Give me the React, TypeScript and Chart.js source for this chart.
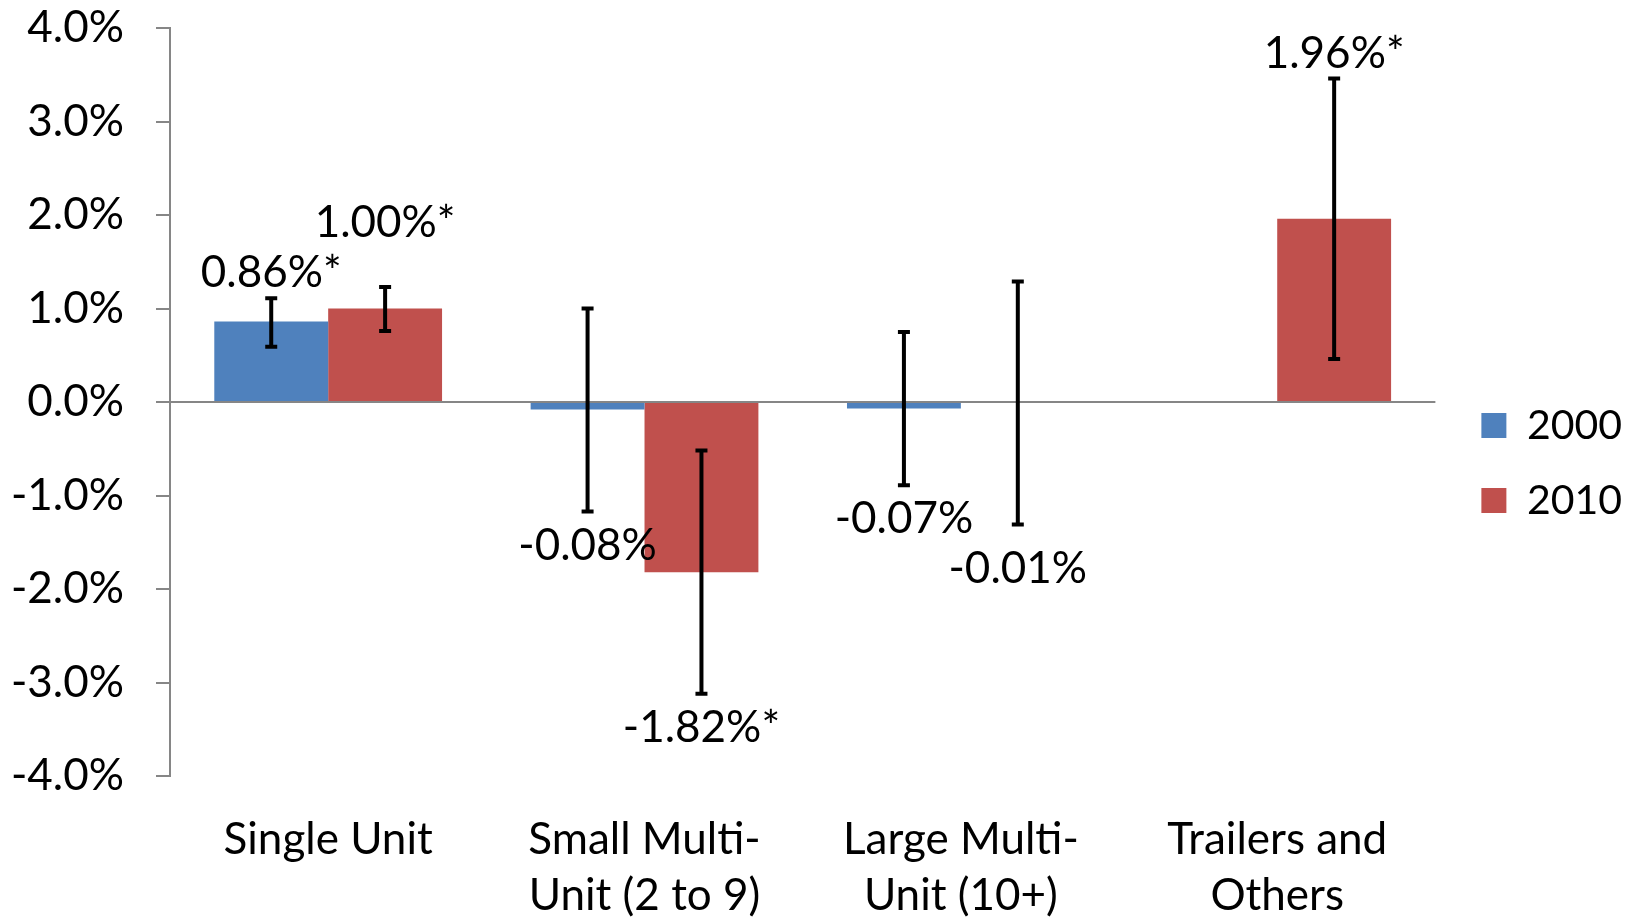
import React, { useEffect, useRef } from 'react';
import { Chart, registerables } from 'chart.js';

Chart.register(...registerables);

const categories: string[][] = [
  ['Single Unit'],
  ['Small Multi-', 'Unit (2 to 9)'],
  ['Large Multi-', 'Unit (10+)'],
  ['Trailers and', 'Others'],
];
const seriesNames = ['2000', '2010'];
const values2000: (number | null)[] = [0.86, -0.08, -0.07, null];
const values2010: (number | null)[] = [1.0, -1.82, -0.01, 1.96];
const errLow2000: (number | null)[] = [0.59, -1.17, -0.89, null];
const errHigh2000: (number | null)[] = [1.11, 1.0, 0.75, null];
const errLow2010: (number | null)[] = [0.76, -3.12, -1.31, 0.46];
const errHigh2010: (number | null)[] = [1.23, -0.52, 1.29, 3.46];
const sig2000 = [true, false, false, false];
const sig2010 = [true, true, false, true];
const yMin = -4;
const yMax = 4;
const yStep = 1;

const colors = ['#4F81BD', '#C0504D'];
const errLows = [errLow2000, errLow2010];
const errHighs = [errHigh2000, errHigh2010];
const sigs = [sig2000, sig2010];
const FONT = 'Lato';
const TEXT_SIZE = 44;

const errorBarPlugin = {
  id: 'errorBarsAndLabels',
  afterLayout(chart: any) {
    // let the category labels use the full canvas height (no clipping)
    const xs = chart.scales.x;
    if (xs) xs.bottom = chart.height;
  },
  afterDatasetsDraw(chart: any) {
    const ctx = chart.ctx;
    const yScale = chart.scales.y;
    const labels: any[] = [];
    chart.data.datasets.forEach((ds: any, di: number) => {
      const meta = chart.getDatasetMeta(di);
      meta.data.forEach((bar: any, i: number) => {
        const v = ds.data[i];
        if (v == null) return;
        const lo = errLows[di][i];
        const hi = errHighs[di][i];
        const x = bar.x;
        const yl = yScale.getPixelForValue(lo);
        const yh = yScale.getPixelForValue(hi);
        ctx.save();
        ctx.strokeStyle = '#000';
        ctx.lineWidth = 4;
        ctx.lineCap = 'butt';
        ctx.beginPath();
        ctx.moveTo(x, yh);
        ctx.lineTo(x, yl);
        ctx.moveTo(x - 6, yh);
        ctx.lineTo(x + 6, yh);
        ctx.moveTo(x - 6, yl);
        ctx.lineTo(x + 6, yl);
        ctx.stroke();
        ctx.restore();
        const text = v.toFixed(2) + '%' + (sigs[di][i] ? '*' : '');
        labels.push({ text, x, v, yl, yh });
      });
    });
    ctx.save();
    ctx.font = `${TEXT_SIZE}px ${FONT}`;
    ctx.fillStyle = '#000';
    ctx.textAlign = 'center';
    ctx.textBaseline = 'middle';
    const placed: any[] = [];
    const h = 38;
    labels.forEach((lb) => {
      const w = ctx.measureText(lb.text).width;
      let cy = lb.v >= 0 ? lb.yh - 25 : lb.yl + 34;
      let moved = true;
      let guard = 0;
      while (moved && guard < 10) {
        moved = false;
        guard++;
        for (const p of placed) {
          const overlapX = Math.abs(p.x - lb.x) < (p.w + w) / 2;
          const overlapY = Math.abs(p.cy - cy) < h + 4;
          if (overlapX && overlapY) {
            cy = lb.v >= 0 ? p.cy - h - 12 : p.cy + h + 12;
            moved = true;
          }
        }
      }
      placed.push({ x: lb.x, cy, w });
      ctx.fillText(lb.text, lb.x, cy);
    });
    ctx.restore();
  },
};

export default function App() {
  const canvasRef = useRef<HTMLCanvasElement | null>(null);

  useEffect(() => {
    document.body.style.margin = '0';
    const canvas = canvasRef.current;
    if (!canvas) return;
    Chart.defaults.font.family = FONT;
    const chart = new Chart(canvas, {
      type: 'bar',
      data: {
        labels: categories,
        datasets: [
          {
            label: seriesNames[0],
            data: values2000,
            backgroundColor: colors[0],
            categoryPercentage: 0.72,
            barPercentage: 1.0,
          },
          {
            label: seriesNames[1],
            data: values2010,
            backgroundColor: colors[1],
            categoryPercentage: 0.72,
            barPercentage: 1.0,
          },
        ],
      },
      options: {
        responsive: false,
        animation: false,
        layout: { padding: { left: 0, right: -3, top: 28, bottom: 20 } },
        plugins: {
          legend: {
            position: 'right',
            align: 'center',
            labels: {
              boxWidth: 25,
              boxHeight: 25,
              padding: 34,
              color: '#000',
              font: { size: 41 },
            },
          },
          tooltip: { enabled: false },
        },
        scales: {
          x: {
            grid: { display: false, drawTicks: false },
            border: { display: false },
            ticks: {
              color: '#000',
              font: { size: TEXT_SIZE, lineHeight: 1.27 },
              padding: 36,
              autoSkip: false,
              maxRotation: 0,
            },
            afterFit: (s: any) => {
              s.height = 122;
              s.paddingLeft = 0;
              s.paddingRight = 0;
            },
          },
          y: {
            min: yMin,
            max: yMax,
            ticks: {
              stepSize: yStep,
              color: '#000',
              font: { size: TEXT_SIZE },
              padding: 32,
              callback: (v: any) => Number(v).toFixed(1) + '%',
            },
            grid: {
              drawOnChartArea: true,
              color: (c: any) => (c.tick && c.tick.value === 0 ? '#868686' : 'rgba(0,0,0,0)'),
              lineWidth: 2,
              tickLength: 14,
              tickColor: '#868686',
              tickWidth: 2,
            },
            border: { color: '#868686', width: 2 },
            afterFit: (s: any) => {
              s.width = 170;
              s.paddingTop = 0;
              s.paddingBottom = 0;
            },
          },
          gap: {
            type: 'linear',
            position: 'right',
            min: 0,
            max: 1,
            display: true,
            grid: { display: false, drawTicks: false },
            border: { display: false },
            ticks: { display: false },
            afterFit: (s: any) => {
              s.width = 12;
              s.paddingTop = 0;
              s.paddingBottom = 0;
            },
          },
        },
      },
      plugins: [errorBarPlugin],
    });
    return () => chart.destroy();
  }, []);

  return (
    <div style={{ width: 1629, height: 918, background: '#fff' }}>
      <canvas ref={canvasRef} width={1629} height={918} />
    </div>
  );
}
